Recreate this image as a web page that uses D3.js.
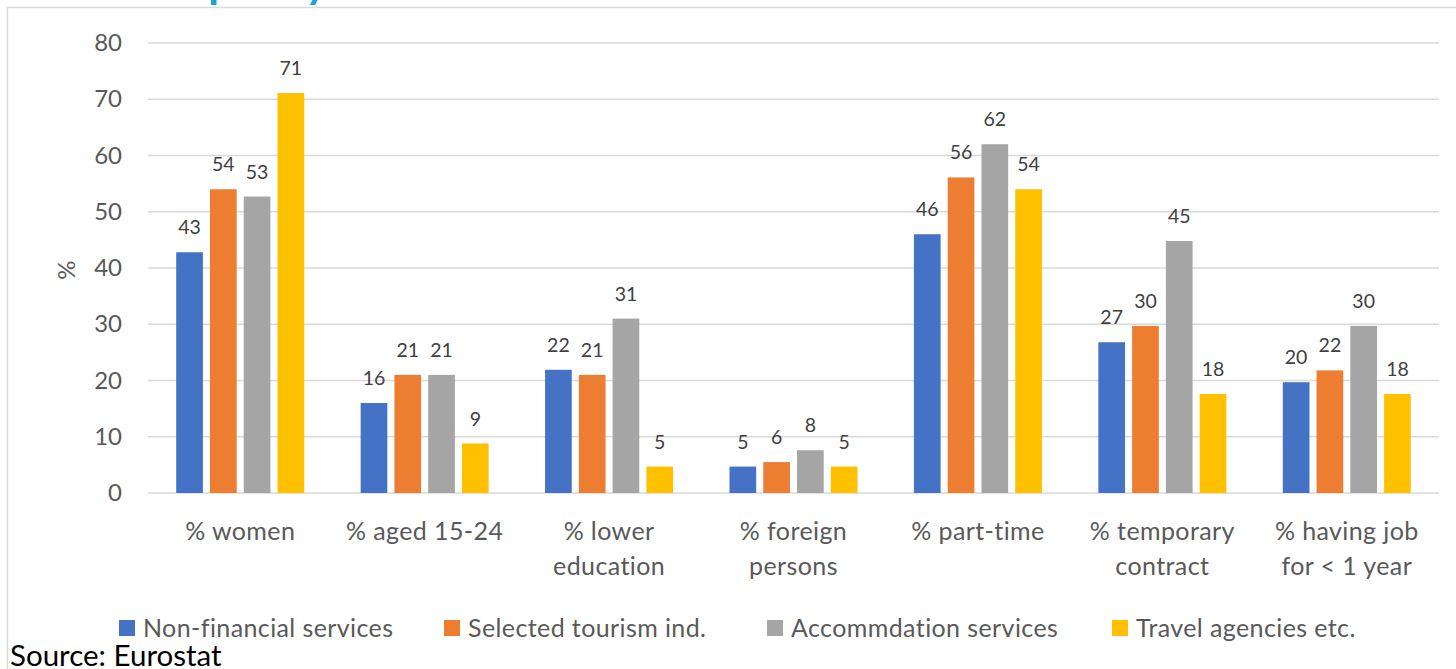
<!DOCTYPE html>
<html>
<head>
<meta charset="utf-8">
<script src="https://cdn.jsdelivr.net/npm/d3@7"></script>
<style>
  body { margin: 0; background: #fff; overflow: hidden; }
  svg { display: block; font-family: Lato, "Open Sans", sans-serif; }
</style>
</head>
<body>
<svg id="chart" width="1456" height="669"></svg>
<script>
// chart data
var categories = ["% women", "% aged 15-24", "% lower education", "% foreign persons",
  "% part-time", "% temporary contract", "% having job for < 1 year"]
var categoryLines = [["% women"], ["% aged 15-24"], ["% lower", "education"], ["% foreign", "persons"],
  ["% part-time"], ["% temporary", "contract"], ["% having job", "for < 1 year"]]
var seriesNames = ["Non-financial services", "Selected tourism ind.", "Accommdation services", "Travel agencies etc."]
var nonFinancial = [42.8, 16, 21.9, 4.7, 46, 26.8, 19.7]
var tourismInd = [54, 21, 21, 5.5, 56.1, 29.7, 21.8]
var accommodation = [52.7, 21, 31, 7.6, 62, 44.8, 29.7]
var travelAgencies = [71.1, 8.8, 4.7, 4.7, 54, 17.6, 17.6]
var yTicks = [0, 10, 20, 30, 40, 50, 60, 70, 80]
var colors = ["#4472C4", "#ED7D31", "#A5A5A5", "#FFC000"]

draw()

function draw() {
  var series = [nonFinancial, tourismInd, accommodation, travelAgencies]

  var svg = d3.select("#chart")
  var plotLeft = 148, plotRight = 1439, plotTop = 43, plotBottom = 493

  // frame + cut off title
  svg.append("rect")
    .attr("x", 7.5).attr("y", 7.5)
    .attr("width", 1500).attr("height", 700)
    .attr("fill", "none").attr("stroke", "#d9d9d9").attr("stroke-width", 1.5)

  svg.append("text")
    .attr("x", 115).attr("y", -2)
    .attr("fill", "#1AA3D8")
    .style("font-size", "44px").style("font-weight", "bold")
    .text("Job quality")

  var x0 = d3.scaleBand().domain(categories).range([plotLeft, plotRight])
  var x1 = d3.scaleBand().domain(d3.range(4)).range([0, 128]).paddingInner(0.21)
  var y = d3.scaleLinear().domain([0, 80]).range([plotBottom, plotTop])

  // gridlines
  svg.append("g")
    .selectAll("line")
    .data(yTicks)
    .enter().append("line")
    .attr("x1", plotLeft).attr("x2", plotRight)
    .attr("y1", function (d) { return y(d) }).attr("y2", function (d) { return y(d) })
    .attr("stroke", "#d9d9d9").attr("stroke-width", 1.5)

  // y axis labels
  var yAxis = svg.append("g")
    .attr("transform", "translate(" + (plotLeft - 26) + ",0)")
    .call(d3.axisLeft(y).tickValues(yTicks).tickSize(0).tickPadding(0))
  yAxis.select(".domain").remove()
  yAxis.selectAll("text")
    .attr("fill", "#595959").style("font-size", "24px").style("font-family", "Lato")

  svg.append("text")
    .attr("transform", "translate(75,270) rotate(-90)")
    .attr("text-anchor", "middle")
    .attr("fill", "#595959").style("font-size", "24px")
    .text("%")

  // bars
  var groups = svg.append("g")
    .selectAll("g")
    .data(categories)
    .enter().append("g")
    .attr("transform", function (d) { return "translate(" + (x0(d) + x0.bandwidth() / 2 - 64) + ",0)" })

  groups.selectAll("rect")
    .data(function (d, i) { return series.map(function (s, k) { return { k: k, v: s[i] } }) })
    .enter().append("rect")
    .attr("x", function (d) { return x1(d.k) })
    .attr("width", x1.bandwidth())
    .attr("y", function (d) { return y(d.v) })
    .attr("height", function (d) { return y(0) - y(d.v) })
    .attr("fill", function (d) { return colors[d.k] })

  groups.selectAll("text")
    .data(function (d, i) { return series.map(function (s, k) { return { k: k, v: s[i] } }) })
    .enter().append("text")
    .attr("x", function (d) { return x1(d.k) + x1.bandwidth() / 2 })
    .attr("y", function (d) { return y(d.v) - 18 })
    .attr("text-anchor", "middle")
    .attr("fill", "#404040").style("font-size", "19.5px")
    .text(function (d) { return Math.round(d.v) })

  // x axis labels
  var xAxis = svg.append("g")
    .attr("transform", "translate(0," + plotBottom + ")")
    .call(d3.axisBottom(x0).tickSize(0).tickFormat(""))
  xAxis.select(".domain").remove()
  xAxis.selectAll(".tick").each(function (d, i) {
    var t = d3.select(this).append("text")
      .attr("fill", "#595959").attr("text-anchor", "middle")
      .style("font-size", "25px").style("font-family", "Lato").style("letter-spacing", "0.4px")
    categoryLines[i].forEach(function (line, j) {
      t.append("tspan").attr("x", 0).attr("y", 47 + j * 35).text(line)
    })
  })

  // legend
  var legendX = [119, 444, 767, 1112]
  var legend = svg.append("g")
    .selectAll("g")
    .data(seriesNames)
    .enter().append("g")
    .attr("transform", function (d, i) { return "translate(" + legendX[i] + ",620)" })
  legend.append("rect")
    .attr("width", 16).attr("height", 16)
    .attr("fill", function (d, i) { return colors[i] })
  legend.append("text")
    .attr("x", 24).attr("y", 17)
    .attr("fill", "#595959").style("font-size", "25px").style("letter-spacing", "0.4px")
    .text(function (d) { return d })

  svg.append("text")
    .attr("x", 10).attr("y", 666)
    .attr("fill", "#000").style("font-size", "29.5px")
    .text("Source: Eurostat")
}
</script>
</body>
</html>
